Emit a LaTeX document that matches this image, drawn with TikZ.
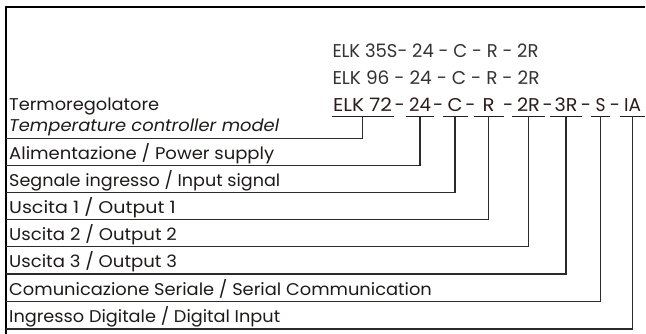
\documentclass[tikz,border=0pt]{standalone}
\usepackage{fontspec}
\usepackage{graphicx}
\setmainfont{Poppins}
\definecolor{ink}{HTML}{1E1A1A}
\definecolor{codeink}{HTML}{2A1C1C}
\definecolor{greyink}{HTML}{333333}
\definecolor{wire}{HTML}{2B2B2B}
\newcommand{\fitw}[2]{\resizebox{#1}{\height}{#2}}
\begin{document}
\begin{tikzpicture}[x=1pt,y=-1pt,
  every node/.style={font=\fontsize{17}{20}\selectfont, text=ink},
  lbl/.style={anchor=base west, inner sep=0pt},
  code/.style={anchor=base west, inner sep=0pt, text=greyink, font=\fontsize{18.5}{22}\selectfont},
  seg/.style={anchor=base, inner xsep=0pt, inner ysep=0pt, text depth=4.5pt, minimum width=#1, text=codeink, font=\fontsize{18.5}{22}\selectfont},
  hyph/.style={anchor=base, inner sep=0pt, text=codeink, font=\fontsize{18.5}{22}\selectfont},
  frame/.style={line width=2pt, black},
  wireline/.style={line width=1.3pt, wire},
  uline/.style={line width=1.2pt, codeink}]
\useasboundingbox (0,0) rectangle (646,334);
% frame
\draw[frame] (645,7) -- (6,7) -- (6,335);
% model codes
\node[code] (m35) at (332.3,57.7) {\fitw{206pt}{ELK 35S- 24 - C - R - 2R}};
\node[code] (m96) at (332.3,84.5) {\fitw{207pt}{ELK 96 - 24 - C - R - 2R}};
\node[seg=61.6pt] (s1) at (362.5,111.5) {\fitw{59pt}{ELK 72}};
\node[seg=27pt] (s2) at (420,111.5) {\fitw{21.8pt}{24}};
\node[seg=24.6pt] (s3) at (455,111.5) {\fitw{15pt}{C}};
\node[seg=29.3pt] (s4) at (488.7,111.5) {\fitw{12pt}{R}};
\node[seg=32pt] (s5) at (528.5,111.5) {\fitw{22.9pt}{2R}};
\node[seg=31pt] (s6) at (566,111.5) {\fitw{22.9pt}{3R}};
\node[seg=19pt] (s7) at (600.5,111.5) {\fitw{10pt}{S}};
\node[seg=25pt] (s8) at (632.5,111.5) {\fitw{17pt}{IA}};
\node[hyph] (h1) at (399.8,111.5) {-};
\node[hyph] (h2) at (438.2,111.5) {-};
\node[hyph] (h3) at (470.5,111.5) {-};
\node[hyph] (h4) at (508.3,111.5) {-};
\node[hyph] (h5) at (547.8,111.5) {-};
\node[hyph] (h6) at (586,111.5) {-};
\node[hyph] (h7) at (615,111.5) {-};
\foreach \i in {1,...,8} \draw[uline] (s\i.south west) -- (s\i.south east);
% labels
\node[lbl] (t0) at (9,110.5) {\fitw{150pt}{Termoregolatore}};
\node[lbl] (t1) at (9,131.8) {\fitw{270pt}{\itshape Temperature controller model}};
\node[lbl] (t2) at (9,159.7) {\fitw{265pt}{Alimentazione / Power supply}};
\node[lbl] (t3) at (9,186.7) {\fitw{271pt}{Segnale ingresso / Input signal}};
\node[lbl] (t4) at (9,213.3) {\fitw{166.5pt}{Uscita 1 / Output 1}};
\node[lbl] (t5) at (9,240.7) {\fitw{167.7pt}{Uscita 2 / Output 2}};
\node[lbl] (t6) at (9,268) {\fitw{167.7pt}{Uscita 3 / Output 3}};
\node[lbl] (t7) at (9,295.7) {\fitw{422.7pt}{Comunicazione Seriale / Serial Communication}};
\node[lbl] (t8) at (9,323) {\fitw{271pt}{Ingresso Digitale / Digital Input}};
% row line starts on the frame
\coordinate (c1) at (6,138.3);
\coordinate (c2) at (6,165.7);
\coordinate (c3) at (6,192.7);
\coordinate (c4) at (6,219.3);
\coordinate (c5) at (6,246.7);
\coordinate (c6) at (6,274);
\coordinate (c7) at (6,301.7);
\coordinate (c8) at (6,329);
\foreach \i in {1,...,8} \draw[wireline] (s\i.south) |- (c\i);
\end{tikzpicture}
\end{document}
